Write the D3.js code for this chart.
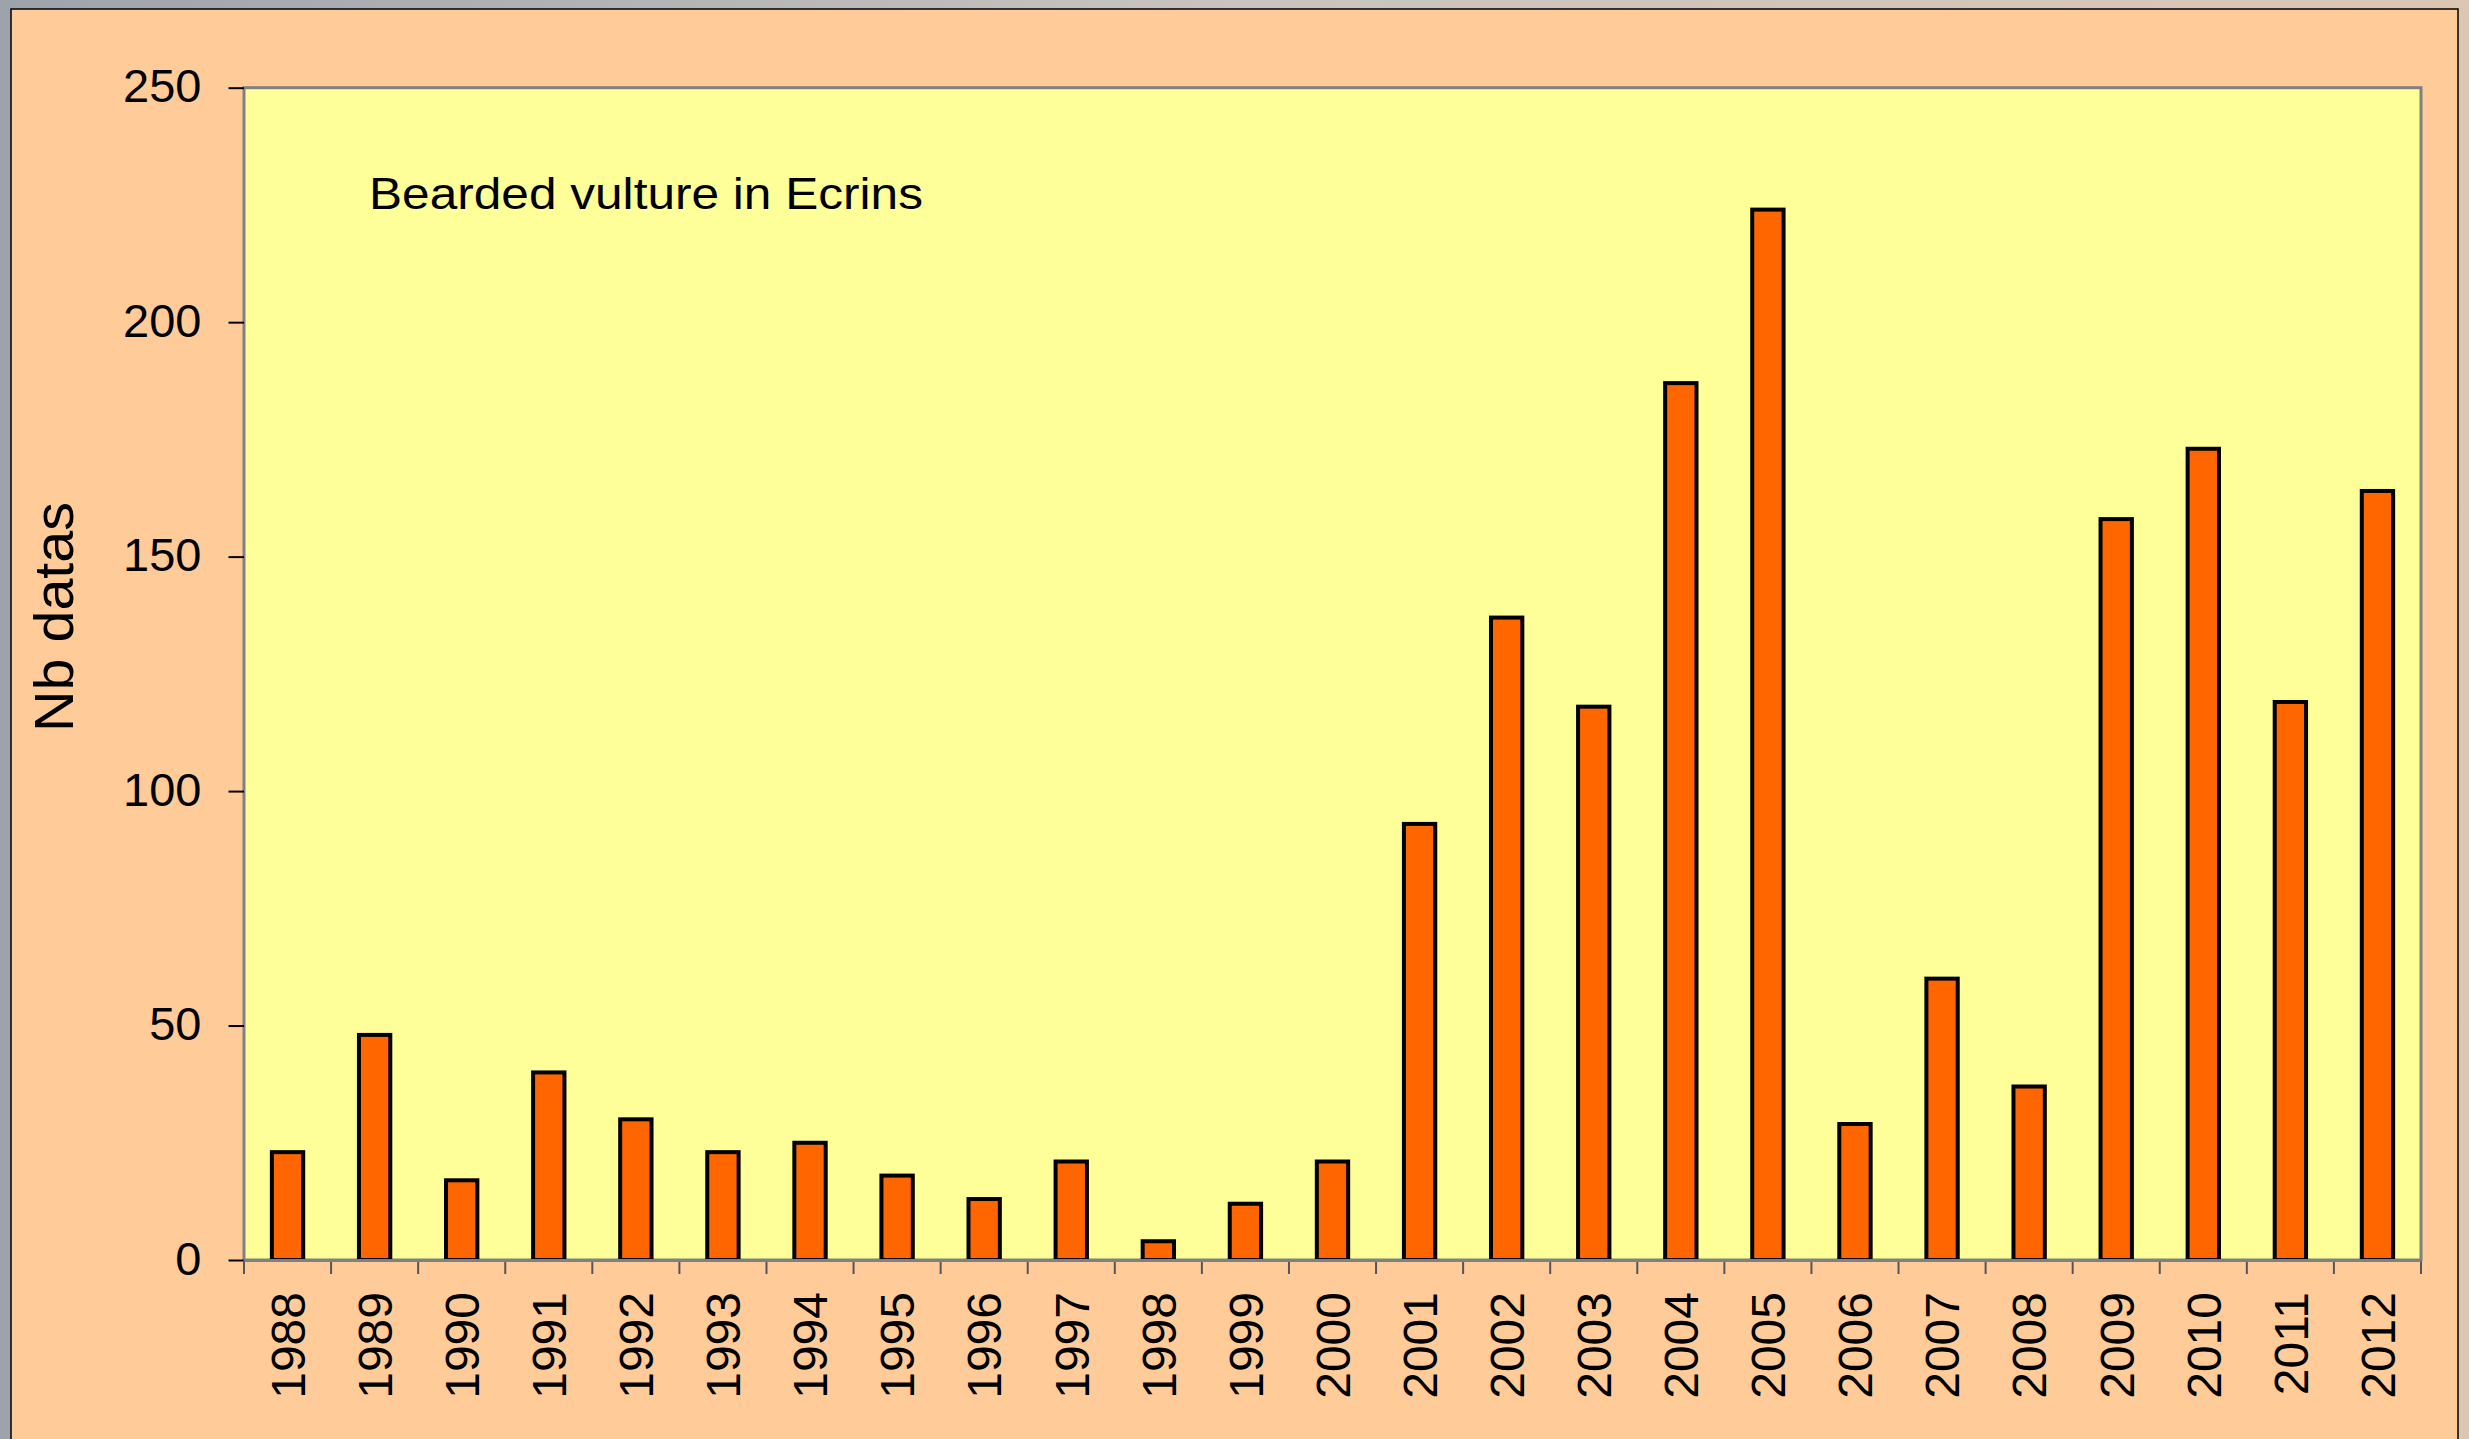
<!DOCTYPE html>
<html>
<head>
<meta charset="utf-8">
<script src="https://cdn.jsdelivr.net/npm/d3@7"></script>
<style>
  body { margin: 0; padding: 0; overflow: hidden; }
  text { font-family: "Liberation Sans", Arial, sans-serif; fill: #000; }
</style>
</head>
<body>
<script>
// data
var years = ["1988", "1989", "1990", "1991", "1992", "1993", "1994", "1995", "1996",
  "1997", "1998", "1999", "2000", "2001", "2002", "2003", "2004", "2005", "2006",
  "2007", "2008", "2009", "2010", "2011", "2012"];
var counts = [23, 48, 17, 40, 30, 23, 25, 18, 13, 21, 4, 12, 21, 93, 137, 118, 187,
  224, 29, 60, 37, 158, 173, 119, 164];
var yTicks = [0, 50, 100, 150, 200, 250];
var chartTitle = "Bearded vulture in Ecrins";
var yLabel = "Nb datas";

var width = 2469;
var height = 1439;
var plotLeft = 244;
var plotRight = 2421;
var plotTop = 87.7;
var plotBottom = 1260;

var svg = d3.select("body")
  .append("svg")
  .attr("width", width)
  .attr("height", height);

// photo-like backdrop behind the chart panel
var grad = svg.append("defs").append("linearGradient")
  .attr("id", "bg")
  .attr("x1", "0").attr("x2", "1").attr("y1", "0").attr("y2", "0");
grad.append("stop").attr("offset", "0").attr("stop-color", "#9ea3ab");
grad.append("stop").attr("offset", "0.5").attr("stop-color", "#c9c4c0");
grad.append("stop").attr("offset", "1").attr("stop-color", "#dcc6b4");

svg.append("rect")
  .attr("width", width)
  .attr("height", height)
  .attr("fill", "url(#bg)");

// chart panel
svg.append("rect")
  .attr("x", 11)
  .attr("y", 9)
  .attr("width", 2447)
  .attr("height", 1450)
  .attr("fill", "#ffcc99")
  .attr("stroke", "#000")
  .attr("stroke-width", 1.5);

// plot area
svg.append("rect")
  .attr("x", plotLeft)
  .attr("y", plotTop)
  .attr("width", plotRight - plotLeft)
  .attr("height", plotBottom - plotTop)
  .attr("fill", "#ffff99")
  .attr("stroke", "#808080")
  .attr("stroke-width", 3);

var xScale = d3.scaleBand()
  .domain(years)
  .range([plotLeft, plotRight])
  .paddingInner(0.64)
  .paddingOuter(0.32);

var yScale = d3.scaleLinear()
  .domain([0, 250])
  .range([plotBottom, plotTop]);

// y axis
var yAxis = d3.axisLeft(yScale)
  .tickValues(yTicks)
  .tickSize(15.5)
  .tickPadding(27);

var yG = svg.append("g")
  .attr("transform", "translate(" + plotLeft + ",0)")
  .call(yAxis);
yG.select(".domain").remove();
yG.selectAll(".tick line").attr("stroke", "#000").attr("stroke-width", 2);
yG.selectAll(".tick text")
  .attr("font-size", 47)
  .attr("font-family", "'Liberation Sans', Arial, sans-serif")
  .attr("dy", "0.3em");

// category boundary ticks under the x axis
var step = xScale.step();
var bounds = d3.range(years.length + 1).map(i => xScale.range()[0] + i * step);

svg.append("g")
  .selectAll("line")
  .data(bounds)
  .enter()
  .append("line")
  .attr("x1", d => d)
  .attr("x2", d => d)
  .attr("y1", plotBottom)
  .attr("y2", plotBottom + 14)
  .attr("stroke", "#555")
  .attr("stroke-width", 2);

// bars
svg.append("g")
  .selectAll("rect")
  .data(counts)
  .enter()
  .append("rect")
  .attr("x", (d, i) => xScale(years[i]))
  .attr("y", d => yScale(d))
  .attr("width", xScale.bandwidth())
  .attr("height", d => yScale(0) - yScale(d))
  .attr("fill", "#ff6600")
  .attr("stroke", "#000")
  .attr("stroke-width", 4);

// x axis line + year labels
var xAxis = d3.axisBottom(xScale).tickSize(0).tickPadding(0);
var xG = svg.append("g")
  .attr("transform", "translate(0," + plotBottom + ")")
  .call(xAxis);
xG.select(".domain")
  .attr("stroke", "#808080")
  .attr("stroke-width", 3);
xG.selectAll(".tick text")
  .attr("font-size", 48)
  .attr("font-family", "'Liberation Sans', Arial, sans-serif")
  .attr("text-anchor", "end")
  .attr("transform", "rotate(-90)")
  .attr("x", -32)
  .attr("y", 0)
  .attr("dy", "0.36em");

// title inside the plot
svg.append("text")
  .attr("x", 369)
  .attr("y", 209)
  .attr("font-size", 45)
  .attr("textLength", 554)
  .attr("lengthAdjust", "spacingAndGlyphs")
  .text(chartTitle);

// y axis label
svg.append("text")
  .attr("transform", "translate(73,617) rotate(-90)")
  .attr("text-anchor", "middle")
  .attr("font-size", 56)
  .attr("textLength", 230)
  .attr("lengthAdjust", "spacingAndGlyphs")
  .text(yLabel);
</script>
</body>
</html>
